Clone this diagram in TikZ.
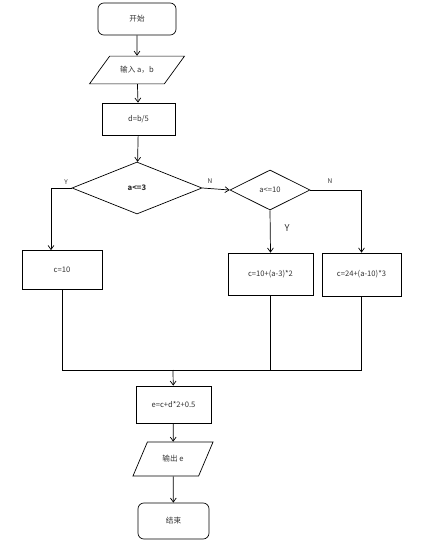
\documentclass[tikz,border=0pt]{standalone}
\usepackage{fontspec}
\setmainfont{Noto Sans CJK SC}
\usetikzlibrary{shapes.geometric, arrows.meta, positioning, calc}
\usepackage{xcolor}

\begin{document}
\begin{tikzpicture}[
    x=0.03cm, y=-0.03cm,
    every node/.style={font=\fontsize{6.5}{8}\selectfont, text=black!80},
    terminal/.style={rectangle, draw, rounded corners=5pt, line width=0.6pt},
    block/.style={rectangle, draw, line width=0.6pt, inner sep=1pt},
    io/.style={trapezium, draw, line width=0.6pt, trapezium stretches body, text height=5pt, text depth=1.5pt, inner xsep=1pt},
    decision/.style={diamond, draw, line width=0.6pt, inner sep=0pt},
    branch/.style={inner sep=1pt, font=\fontsize{5.5}{6}\selectfont},
    arrow/.style={draw, line width=0.6pt, ->, >={Straight Barb[length=3.5pt, width=5pt]}},
    line/.style={draw, line width=0.6pt}
]
\useasboundingbox (0,0) rectangle (423,542);

\node[terminal, minimum width=2.34cm, minimum height=0.96cm] (start) at (137,19) {开始};
\node[io, trapezium left angle=54, trapezium right angle=126, inner ysep=8.6pt, minimum width=2.85cm] (input) at (137,70) {输入 a，b};
\node[block, minimum width=2.19cm, minimum height=0.96cm] (dcalc) at (138.5,119) {d=b/5};
\node[decision, minimum width=3.9cm, minimum height=1.56cm] (check1) at (137,188) {\textbf{a<=3}};
\node[decision, minimum width=2.4cm, minimum height=1.2cm] (check2) at (270,190) {a<=10};
\node[block, minimum width=2.4cm, minimum height=1.17cm] (cone) at (62,270) {c=10};
\node[block, minimum width=2.55cm, minimum height=1.26cm] (ctwo) at (270.5,274) {c=10+(a-3)*2};
\node[block, minimum width=2.37cm, minimum height=1.29cm] (cthree) at (361.5,274.5) {c=24+(a-10)*3};
\coordinate (merge) at (173,370);
\node[block, minimum width=2.25cm, minimum height=1.11cm] (ecalc) at (173.5,404.5) {e=c+d*2+0.5};
\node[io, trapezium left angle=67, trapezium right angle=113, inner ysep=11.2pt, minimum width=2.4cm] (output) at (173,459) {输出 e};
\node[terminal, minimum width=2.13cm, minimum height=1.08cm] (stop) at (173.5,521) {结束};

% branch labels
\node[branch] (yone) at (66,182) {Y};
\node[branch] (none) at (210,181) {N};
\node[branch, font=\fontsize{8}{9}\selectfont] (ytwo) at (287,228) {Y};
\node[branch] (ntwo) at (330,181) {N};

\draw[arrow] (start) -- (input);
\draw[arrow] (input) -- (dcalc);
\draw[arrow] (dcalc) -- (check1);
\draw[arrow] (check1.west) -| ([xshift=-0.33cm]cone.north);
\draw[arrow] (check1.east) -- (check2.west);
\draw[arrow] (check2.south) -- (ctwo.north);
\draw[arrow] (check2.east) -| (cthree.north);

\draw[line] (cone.south) -- (cone.south |- merge) -- (cthree.south |- merge) -- (cthree.south);
\draw[line] (ctwo.south) -- (ctwo.south |- merge);
\draw[arrow] (merge) -- (ecalc);
\draw[arrow] (ecalc) -- (output);
\draw[arrow] (output) -- (stop);

\end{tikzpicture}
\end{document}
